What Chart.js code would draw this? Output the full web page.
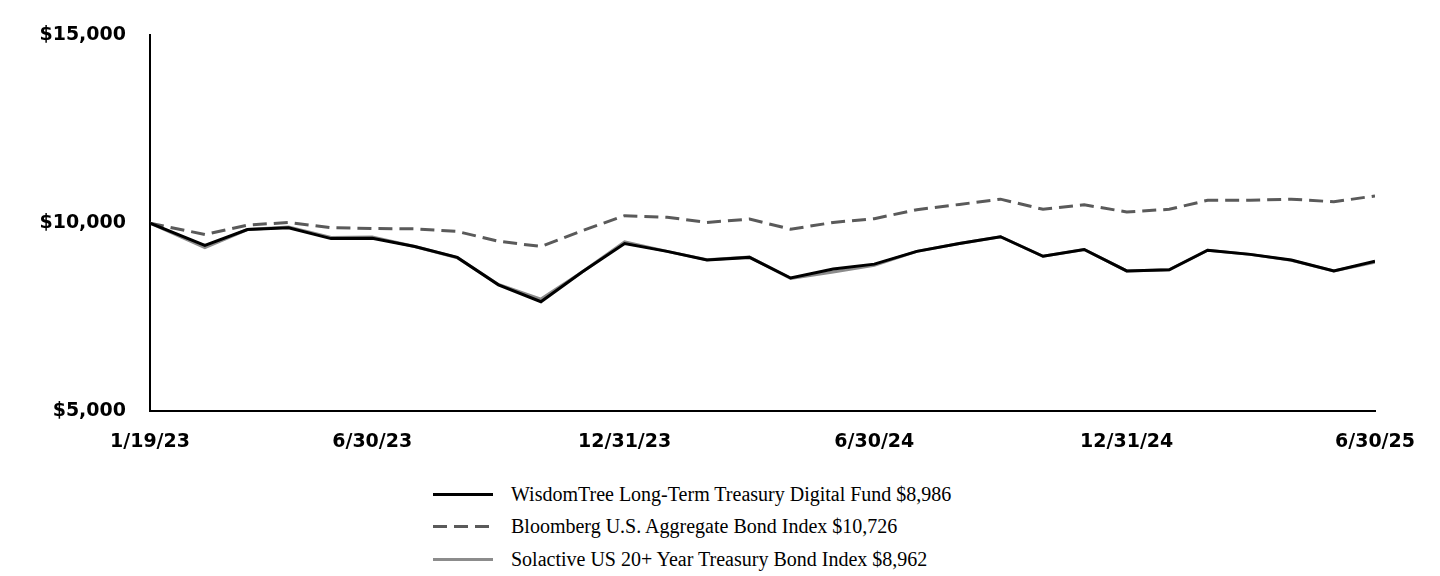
<!DOCTYPE html>
<html>
<head>
<meta charset="utf-8">
<script src="https://cdn.jsdelivr.net/npm/chart.js@4"></script>
<style>
  body { margin: 0; background: #fff; width: 1440px; height: 576px; overflow: hidden; }
  #wrap { position: absolute; left: 0; top: 0; width: 1440px; height: 470px; }
  #legend { position: absolute; left: 433px; top: 478px; font-family: "Liberation Serif", serif; font-size: 20px; color: #000; }
  .item { display: flex; align-items: center; height: 32.5px; }
  .swatch { width: 60px; height: 0; margin-right: 18px; }
</style>
</head>
<body>
<div id="wrap"><canvas id="chart"></canvas></div>
<div id="legend"></div>
<script>
// dates of each point (month ends after inception)
const dates = [
  "2023-01-19", "2023-02-28", "2023-03-31", "2023-04-30", "2023-05-31", "2023-06-30",
  "2023-07-31", "2023-08-31", "2023-09-30", "2023-10-31", "2023-11-30", "2023-12-31",
  "2024-01-31", "2024-02-29", "2024-03-31", "2024-04-30", "2024-05-31", "2024-06-30",
  "2024-07-31", "2024-08-31", "2024-09-30", "2024-10-31", "2024-11-30", "2024-12-31",
  "2025-01-31", "2025-02-28", "2025-03-31", "2025-04-30", "2025-05-31", "2025-06-30",
];
const fund = [10000, 9410, 9830, 9880, 9590, 9600, 9380, 9090, 8360, 7910, 8700, 9460,
  9250, 9020, 9090, 8540, 8780, 8910, 9250, 9460, 9640, 9120, 9300, 8730, 8760, 9280,
  9170, 9020, 8730, 8986];
const bloomberg = [10000, 9700, 9950, 10020, 9880, 9860, 9850, 9780, 9520, 9380, 9800, 10200,
  10160, 10020, 10110, 9840, 10020, 10120, 10360, 10500, 10640, 10370, 10490, 10300, 10370, 10610,
  10610, 10640, 10570, 10726];
const solactive = [10000, 9350, 9830, 9900, 9620, 9630, 9380, 9080, 8370, 7980, 8700, 9500,
  9250, 9030, 9100, 8530, 8700, 8880, 9250, 9460, 9640, 9120, 9300, 8730, 8760, 9280,
  9170, 9010, 8730, 8962];
const tickDates = ["2023-01-19", "2023-06-30", "2023-12-31", "2024-06-30", "2024-12-31", "2025-06-30"];
const tickLabels = ["1/19/23", "6/30/23", "12/31/23", "6/30/24", "12/31/24", "6/30/25"];
const yTicks = [5000, 10000, 15000];

const dayNum = (s) => Date.parse(s + "T00:00:00Z") / 86400000;
const xs = dates.map(dayNum);
const tickXs = tickDates.map(dayNum);
const pts = (arr) => arr.map((v, i) => ({ x: xs[i], y: v }));

const datasets = [
  { label: "WisdomTree Long-Term Treasury Digital Fund $8,986", data: pts(fund),
    borderColor: "#000000", borderWidth: 3, order: 0 },
  { label: "Bloomberg U.S. Aggregate Bond Index $10,726", data: pts(bloomberg),
    borderColor: "#5a5a5a", borderWidth: 3, borderDash: [14, 7], order: 2 },
  { label: "Solactive US 20+ Year Treasury Bond Index $8,962", data: pts(solactive),
    borderColor: "#8c8c8c", borderWidth: 3, order: 1 },
];
datasets.forEach(d => { d.pointRadius = 0; d.tension = 0; d.fill = false; });

const tickFont = { family: "DejaVu Sans", weight: "900", size: 19 };

new Chart(document.getElementById("chart"), {
  type: "line",
  data: { datasets },
  options: {
    responsive: true,
    maintainAspectRatio: false,
    animation: false,
    layout: { padding: { left: 0, right: 65, top: 26, bottom: 0 } },
    plugins: { legend: { display: false }, tooltip: { enabled: false } },
    scales: {
      x: {
        type: "linear",
        min: xs[0], max: xs[xs.length - 1],
        afterBuildTicks: (s) => { s.ticks = tickXs.map(v => ({ value: v })); },
        afterFit: (s) => { s.height = 59; },
        ticks: { font: tickFont, color: "#000", padding: 20, maxRotation: 0,
          callback: (v) => tickLabels[tickXs.indexOf(v)] },
        grid: { display: false, drawTicks: false },
        border: { color: "#000", width: 2 },
      },
      y: {
        min: 5000, max: 15000,
        afterBuildTicks: (s) => { s.ticks = yTicks.map(v => ({ value: v })); },
        afterFit: (s) => { s.width = 150; },
        ticks: { font: tickFont, color: "#000", padding: 24,
          callback: (v) => "$" + v.toLocaleString("en-US") },
        grid: { display: false, drawTicks: false },
        border: { color: "#000", width: 2 },
      },
    },
  },
});

const legend = document.getElementById("legend");
datasets.forEach(d => {
  const row = document.createElement("div");
  row.className = "item";
  const sw = document.createElement("span");
  sw.className = "swatch";
  sw.style.borderTop = "3px solid " + d.borderColor;
  if (d.borderDash) {
    sw.style.borderTop = "none";
    sw.style.height = "3px";
    sw.style.background = "repeating-linear-gradient(90deg," + d.borderColor + " 0 14px, transparent 14px 21px)";
  }
  row.appendChild(sw);
  row.appendChild(document.createTextNode(d.label));
  legend.appendChild(row);
});
</script>
</body>
</html>
